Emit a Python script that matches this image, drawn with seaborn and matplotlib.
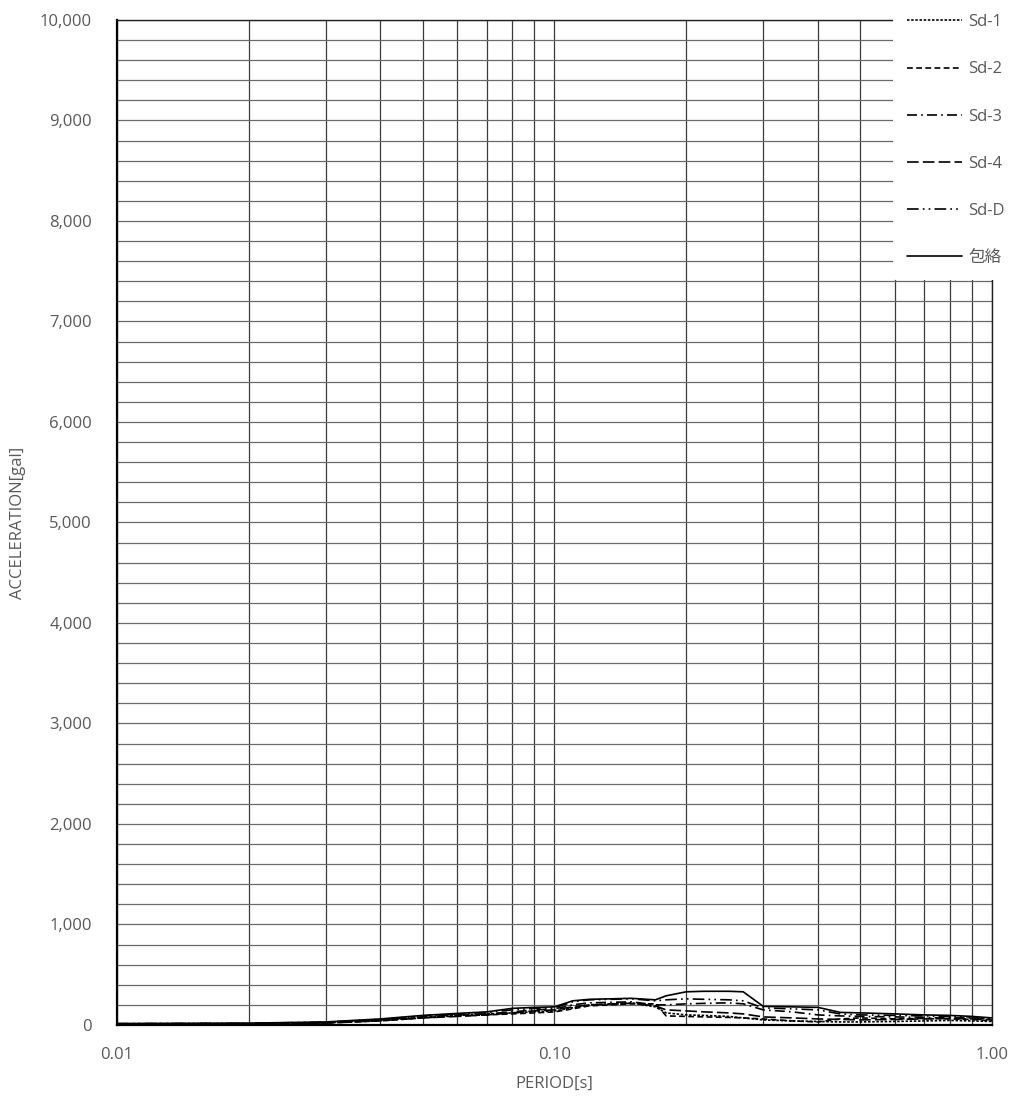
import pandas as pd
import seaborn as sns
import matplotlib.pyplot as plt
from matplotlib.ticker import FixedLocator, FuncFormatter, NullFormatter

# response spectra (period [s] -> acceleration [gal])
periods = [0.01, 0.02, 0.03, 0.04, 0.05, 0.06, 0.07, 0.08, 0.09, 0.10,
           0.11, 0.12, 0.15, 0.17, 0.18, 0.20, 0.22, 0.25, 0.27, 0.30,
           0.35, 0.40, 0.45, 0.50, 0.60, 0.70, 0.80, 0.90, 1.00]
sd1 = [12, 14, 22, 45, 75, 95, 110, 120, 130, 140, 170, 200, 220, 180, 120,
       100, 95, 85, 70, 50, 40, 35, 30, 30, 35, 40, 45, 40, 35]
sd2 = [10, 12, 20, 40, 70, 90, 100, 110, 120, 130, 160, 190, 210, 210, 90,
       85, 80, 75, 70, 60, 40, 30, 60, 70, 60, 65, 60, 55, 40]
sd3 = [11, 13, 25, 50, 80, 100, 110, 130, 150, 160, 200, 220, 230, 200, 200,
       210, 215, 220, 210, 150, 130, 100, 90, 85, 80, 75, 70, 70, 60]
sd4 = [9, 11, 18, 42, 70, 85, 100, 120, 140, 150, 180, 200, 215, 190, 150,
       140, 130, 120, 110, 80, 70, 60, 55, 50, 55, 60, 65, 60, 50]
sdd = [13, 16, 28, 55, 90, 110, 125, 150, 165, 170, 230, 250, 260, 240, 250,
       260, 255, 250, 240, 170, 160, 150, 110, 100, 95, 90, 85, 80, 60]
envelope = [14, 18, 30, 60, 95, 115, 130, 165, 175, 180, 240, 255, 265, 250,
            290, 330, 335, 335, 330, 185, 180, 175, 125, 120, 110, 100, 95, 85, 70]

series_names = ["Sd-1", "Sd-2", "Sd-3", "Sd-4", "Sd-D", "包絡"]
series_vals = [sd1, sd2, sd3, sd4, sdd, envelope]

x_ticks = [0.01, 0.10, 1.00]
y_ticks = list(range(0, 10001, 1000))

rows = []
for name, vals in zip(series_names, series_vals):
    for p, v in zip(periods, vals):
        rows.append({"period": p, "acc": v, "series": name})
df = pd.DataFrame(rows)

sns.set_style("white")
plt.rcParams["font.family"] = ["Open Sans", "Noto Sans CJK JP", "DejaVu Sans"]

fig = plt.figure(figsize=(10.19, 11.04), dpi=100)
ax = fig.add_axes([0.1148, 0.0716, 0.8587, 0.9103])

dashes = [(1.5, 1), (3.5, 2), (6, 2.5, 1, 2.5), (7, 2.5), (7, 2.5, 1, 2.5, 1, 2.5), ""]
sns.lineplot(data=df, x="period", y="acc", hue="series", style="series",
             dashes=dashes, palette=["black"] * 6, hue_order=series_names,
             style_order=series_names, linewidth=1.2, ax=ax, legend=True)

ax.set_xscale("log")
ax.set_xlim(0.01, 1.0)
ax.set_ylim(0, 10000)

ax.xaxis.set_major_locator(FixedLocator(x_ticks))
ax.xaxis.set_major_formatter(FuncFormatter(lambda v, _: f"{v:.2f}"))
ax.xaxis.set_minor_formatter(NullFormatter())
ax.yaxis.set_major_locator(FixedLocator(y_ticks))
ax.yaxis.set_minor_locator(FixedLocator(range(0, 10001, 200)))
ax.yaxis.set_major_formatter(FuncFormatter(lambda v, _: f"{int(v):,}"))

ax.grid(True, which="both", axis="y", color="#6a6a6a", linewidth=0.9)
ax.grid(True, which="both", axis="x", color="#3a3a3a", linewidth=0.9)
ax.set_axisbelow(True)
ax.tick_params(axis="both", which="both", length=0, colors="#595959",
               labelsize=12)
ax.tick_params(axis="y", pad=18)
ax.tick_params(axis="x", pad=16)

for side in ["left", "bottom"]:
    ax.spines[side].set_color("black")
    ax.spines[side].set_linewidth(1.6)
for side in ["top", "right"]:
    ax.spines[side].set_color("#202020")
    ax.spines[side].set_linewidth(1.0)

ax.set_xlabel("PERIOD[s]", color="#595959", fontsize=12, labelpad=9)
ax.set_ylabel("ACCELERATION[gal]", color="#595959", fontsize=12, labelpad=10)

handles, labels = ax.get_legend_handles_labels()
ax.legend_.remove()
leg = fig.legend(handles, labels, loc="upper right", bbox_to_anchor=(1.0, 1.0),
                 frameon=True, facecolor="white", edgecolor="none", framealpha=1,
                 fontsize=12, labelspacing=1.87, handlelength=3.3,
                 handletextpad=0.4, borderpad=0.85, borderaxespad=0.0)
for t in leg.get_texts():
    t.set_color("#595959")

fig.savefig("out.png", dpi=100)
